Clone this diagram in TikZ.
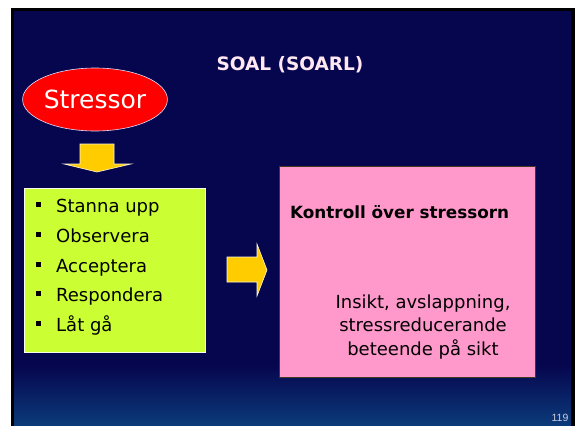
\documentclass[tikz,border=0pt]{standalone}
\usepackage{fontspec}
\setmainfont{DejaVu Sans}
\newfontfamily\numfont{Liberation Sans}
\usetikzlibrary{shapes.geometric}
\definecolor{slidenavy}{HTML}{06064E}
\definecolor{slidebottom}{HTML}{0B3B7A}
\definecolor{arrowgold}{HTML}{FFCC00}
\definecolor{listgreen}{HTML}{CCFF33}
\definecolor{boxpink}{HTML}{FF99CC}
\definecolor{boxedge}{HTML}{403A22}
\definecolor{titletint}{HTML}{FFE8F2}
\tikzset{
  blockarrow/.style={fill=arrowgold, draw=white!85!arrowgold, line width=0.6pt},
  listitem/.style={anchor=base west, inner sep=0pt, font=\fontsize{18}{22}\selectfont},
  bulletsq/.style={fill=black},
}
\begin{document}
\begin{tikzpicture}[x=1pt,y=-1pt]
  \useasboundingbox (0,0) rectangle (579,426);
  % page and slide frame
  \fill[white] (0,0) rectangle (579,426);
  \fill[black] (11,8) rectangle (575,426);
  \fill[slidenavy] (14,11) rectangle (571,426);
  \shade[top color=slidenavy, bottom color=slidebottom] (14,365) rectangle (571,426);

  % title
  \node[font=\bfseries\fontsize{18.5}{22}\selectfont, text=titletint] (title) at (290,65) {SOAL (SOARL)};

  % stressor
  \node[ellipse, fill=red, draw=white!88!blue, line width=0.6pt,
        minimum width=128pt, minimum height=63pt, inner sep=0pt,
        text=white, font=\fontsize{25}{30}\selectfont] (stressor) at (95,99.5) {Stressor};

  % downward block arrow
  \draw[blockarrow] (80,144) -- (114,144) -- (114,164) -- (131,164) -- (97,172)
        -- (64,164) -- (80,164) -- cycle;

  % list box
  \node[draw=white!90!listgreen, fill=listgreen, line width=0.6pt, anchor=north west,
        minimum width=181pt, minimum height=164pt, inner sep=0pt] (listbox) at (24,188) {};
  \foreach \lbl/\txt/\yb in {stop/Stanna upp/212, obs/Observera/242, acc/Acceptera/272,
                               resp/Respondera/301, let/Låt gå/331}{
    \fill[bulletsq] (36,\yb-10.5) rectangle (41,\yb-5.5);
    \node[listitem] (\lbl) at (56,\yb) {\txt};
  }

  % rightward block arrow
  \draw[blockarrow] (227,257) -- (257,257) -- (257,244) -- (267,270) -- (257,296)
        -- (257,282) -- (227,282) -- cycle;

  % result box
  \node[draw=boxedge, fill=boxpink, line width=0.8pt, anchor=north west,
        minimum width=256pt, minimum height=211pt, inner sep=0pt] (resultbox) at (279,166) {};
  \node[anchor=west, inner sep=0pt, font=\bfseries\fontsize{16.8}{20}\selectfont] (control)
        at (290,212) {Kontroll över stressorn};
  \node[align=center, inner sep=0pt, font=\fontsize{18}{23.5}\selectfont] (insight)
        at (423,327) {Insikt, avslappning,\\stressreducerande\\beteende på sikt};

  % page number
  \node[text=white!80!slidenavy, font=\numfont\fontsize{10.5}{12}\selectfont, inner sep=0pt] (pagenum)
        at (560,418) {119};
\end{tikzpicture}
\end{document}
